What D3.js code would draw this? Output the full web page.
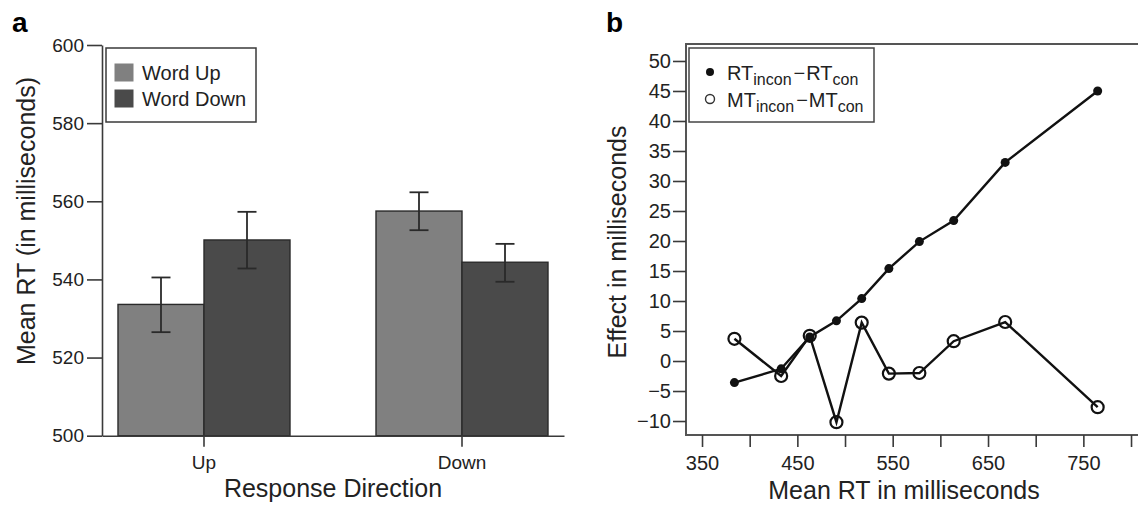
<!DOCTYPE html>
<html>
<head>
<meta charset="utf-8">
<script src="https://cdn.jsdelivr.net/npm/d3@7"></script>
<style>
  body { margin: 0; background: #fff; }
  svg { display: block; font-family: "Liberation Sans", Arial, sans-serif; }
</style>
</head>
<body>
<svg width="1138" height="507"></svg>
<script>
  // panel a: mean RT by response direction
  var groups = ["Up", "Down"];
  var seriesNames = ["Word Up", "Word Down"];
  var wordUp = [533.6, 557.5];
  var wordUpLo = [526.5, 552.6];
  var wordUpHi = [540.5, 562.3];
  var wordDown = [550.1, 544.4];
  var wordDownLo = [542.8, 539.4];
  var wordDownHi = [557.3, 549.1];
  var yTicksA = [500, 520, 540, 560, 580, 600];

  // panel b: effect by mean RT bin
  var binRT = [384, 433, 463, 491, 517.5, 546, 578, 614, 668, 765];
  var rtEffect = [-3.6, -1.3, 4.0, 6.7, 10.4, 15.4, 19.9, 23.4, 33.1, 45.0];
  var mtEffect = [3.7, -2.5, 4.2, -10.2, 6.4, -2.1, -2.0, 3.3, 6.5, -7.7];
  var yTicksB = [-10, -5, 0, 5, 10, 15, 20, 25, 30, 35, 40, 45, 50];
  var xTicksB = [350, 400, 450, 500, 550, 600, 650, 700, 750, 800];
  var xLabelsB = [350, 450, 550, 650, 750];

  var svg = d3.select("svg");
  var axisColor = "#3a3a3a";
  var colors = { "Word Up": "#808080", "Word Down": "#4a4a4a" };

  function styleAxis(g, size) {
    g.selectAll("path.domain").attr("stroke", axisColor).attr("stroke-width", 1.6);
    g.selectAll(".tick line").attr("stroke", axisColor).attr("stroke-width", 1.6);
    g.selectAll(".tick text").attr("fill", "#222").style("font-size", size + "px")
      .style("font-family", "'Liberation Sans', Arial, sans-serif");
  }

  // ---------- panel a ----------
  var yA = d3.scaleLinear().domain([500, 600]).range([435.7, 45]);
  var x0 = d3.scaleBand().domain(groups).range([102, 564])
    .paddingInner(1 / 3).paddingOuter(0.062);
  var x1 = d3.scaleBand().domain(seriesNames).range([0, x0.bandwidth()]);

  var barData = [];
  groups.forEach(function (grp, i) {
    barData.push({ g: grp, s: "Word Up", v: wordUp[i], lo: wordUpLo[i], hi: wordUpHi[i] });
    barData.push({ g: grp, s: "Word Down", v: wordDown[i], lo: wordDownLo[i], hi: wordDownHi[i] });
  });

  var gA = svg.append("g");

  gA.selectAll("rect.bar")
    .data(barData)
    .enter()
    .append("rect")
    .attr("class", "bar")
    .attr("x", function (d) { return x0(d.g) + x1(d.s); })
    .attr("y", function (d) { return yA(d.v); })
    .attr("width", x1.bandwidth())
    .attr("height", function (d) { return yA(500) - yA(d.v); })
    .attr("fill", function (d) { return colors[d.s]; })
    .attr("stroke", "#2a2a2a")
    .attr("stroke-width", 1.4);

  var errG = gA.selectAll("g.err")
    .data(barData)
    .enter()
    .append("g")
    .attr("class", "err")
    .attr("stroke", "#2a2a2a")
    .attr("stroke-width", 1.8);

  function cx(d) { return x0(d.g) + x1(d.s) + x1.bandwidth() / 2; }
  errG.append("line")
    .attr("x1", cx).attr("x2", cx)
    .attr("y1", function (d) { return yA(d.lo); })
    .attr("y2", function (d) { return yA(d.hi); });
  errG.append("line")
    .attr("x1", function (d) { return cx(d) - 9.5; })
    .attr("x2", function (d) { return cx(d) + 9.5; })
    .attr("y1", function (d) { return yA(d.hi); })
    .attr("y2", function (d) { return yA(d.hi); });
  errG.append("line")
    .attr("x1", function (d) { return cx(d) - 9.5; })
    .attr("x2", function (d) { return cx(d) + 9.5; })
    .attr("y1", function (d) { return yA(d.lo); })
    .attr("y2", function (d) { return yA(d.lo); });

  var axA = gA.append("g")
    .attr("transform", "translate(102,0)")
    .call(d3.axisLeft(yA).tickValues(yTicksA).tickSize(15).tickSizeOuter(0).tickPadding(3));
  styleAxis(axA, 19);

  var axAx = gA.append("g")
    .attr("transform", "translate(0," + yA(500) + ")")
    .call(d3.axisBottom(x0).tickSize(11).tickSizeOuter(0).tickPadding(9));
  styleAxis(axAx, 19);

  // legend a
  var legA = gA.append("g");
  legA.append("rect")
    .attr("x", 106).attr("y", 48).attr("width", 150).attr("height", 74)
    .attr("fill", "#fff").attr("stroke", axisColor).attr("stroke-width", 1.5);
  seriesNames.forEach(function (s, i) {
    legA.append("rect")
      .attr("x", 114.5).attr("y", 63.5 + i * 26).attr("width", 19).attr("height", 18)
      .attr("fill", colors[s]);
    legA.append("text")
      .attr("x", 142).attr("y", 80 + i * 26)
      .style("font-size", "20px").attr("fill", "#222")
      .text(s);
  });

  gA.append("text")
    .attr("transform", "translate(35,221) rotate(-90)")
    .attr("text-anchor", "middle")
    .style("font-size", "25px").attr("fill", "#222")
    .text("Mean RT (in milliseconds)");

  gA.append("text")
    .attr("x", 333).attr("y", 497)
    .attr("text-anchor", "middle")
    .style("font-size", "25px").attr("fill", "#222")
    .text("Response Direction");

  svg.append("text")
    .attr("x", 12).attr("y", 32)
    .style("font-size", "28px").style("font-weight", "bold")
    .text("a");

  // ---------- panel b ----------
  var xB = d3.scaleLinear().domain([333.2, 819.9]).range([686, 1150]);
  var yB = d3.scaleLinear().domain([-12.33, 52.83]).range([435, 44]);

  var gB = svg.append("g");

  gB.append("rect")
    .attr("x", 686).attr("y", 44).attr("width", 470).attr("height", 391)
    .attr("fill", "none").attr("stroke", "#555").attr("stroke-width", 2);

  var axB = gB.append("g")
    .attr("transform", "translate(686,0)")
    .call(d3.axisLeft(yB).tickValues(yTicksB).tickSize(13).tickSizeOuter(0).tickPadding(2)
      .tickFormat(d3.format("d")));
  styleAxis(axB, 20);
  axB.select("path.domain").remove();

  var axBx = gB.append("g")
    .attr("transform", "translate(0,435)")
    .call(d3.axisBottom(xB).tickValues(xTicksB).tickSize(12).tickSizeOuter(0).tickPadding(9)
      .tickFormat(function (d) { return xLabelsB.indexOf(d) >= 0 ? d : ""; }));
  styleAxis(axBx, 20);
  axBx.select("path.domain").remove();

  var rtPts = binRT.map(function (x, i) { return [x, rtEffect[i]]; });
  var mtPts = binRT.map(function (x, i) { return [x, mtEffect[i]]; });

  var line = d3.line()
    .x(function (d) { return xB(d[0]); })
    .y(function (d) { return yB(d[1]); });

  gB.append("path").attr("d", line(rtPts))
    .attr("fill", "none").attr("stroke", "#111").attr("stroke-width", 2.4);
  gB.append("path").attr("d", line(mtPts))
    .attr("fill", "none").attr("stroke", "#111").attr("stroke-width", 2.4);

  gB.selectAll("circle.rt")
    .data(rtPts)
    .enter()
    .append("circle")
    .attr("class", "rt")
    .attr("cx", function (d) { return xB(d[0]); })
    .attr("cy", function (d) { return yB(d[1]); })
    .attr("r", 4.5)
    .attr("fill", "#111");

  gB.selectAll("circle.mt")
    .data(mtPts)
    .enter()
    .append("circle")
    .attr("class", "mt")
    .attr("cx", function (d) { return xB(d[0]); })
    .attr("cy", function (d) { return yB(d[1]); })
    .attr("r", 6)
    .attr("fill", "none")
    .attr("stroke", "#111")
    .attr("stroke-width", 2.2);

  // legend b
  var legB = gB.append("g");
  legB.append("rect")
    .attr("x", 689).attr("y", 48).attr("width", 185).attr("height", 74)
    .attr("fill", "#fff").attr("stroke", "#444").attr("stroke-width", 1.5);
  legB.append("circle").attr("cx", 710).attr("cy", 72).attr("r", 4).attr("fill", "#111");
  legB.append("circle").attr("cx", 710).attr("cy", 99).attr("r", 4.5)
    .attr("fill", "none").attr("stroke", "#333").attr("stroke-width", 1.4);

  function legendLabel(y, a) {
    var t = legB.append("text").attr("x", 727).attr("y", y)
      .style("font-size", "20px").attr("fill", "#222");
    t.append("tspan").text(a);
    t.append("tspan").attr("dy", 5).style("font-size", "16px").text("incon");
    t.append("tspan").attr("dy", -5).attr("dx", 2).text("\u2212");
    t.append("tspan").attr("dx", 1).text(a);
    t.append("tspan").attr("dy", 5).style("font-size", "16px").text("con");
  }
  legendLabel(80, "RT");
  legendLabel(107, "MT");

  gB.append("text")
    .attr("transform", "translate(626,242) rotate(-90)")
    .attr("text-anchor", "middle")
    .style("font-size", "25px").attr("fill", "#222")
    .text("Effect in milliseconds");

  gB.append("text")
    .attr("x", 904).attr("y", 499)
    .attr("text-anchor", "middle")
    .style("font-size", "25px").attr("fill", "#222")
    .text("Mean RT in milliseconds");

  svg.append("text")
    .attr("x", 606).attr("y", 32)
    .style("font-size", "28px").style("font-weight", "bold")
    .text("b");
</script>
</body>
</html>
